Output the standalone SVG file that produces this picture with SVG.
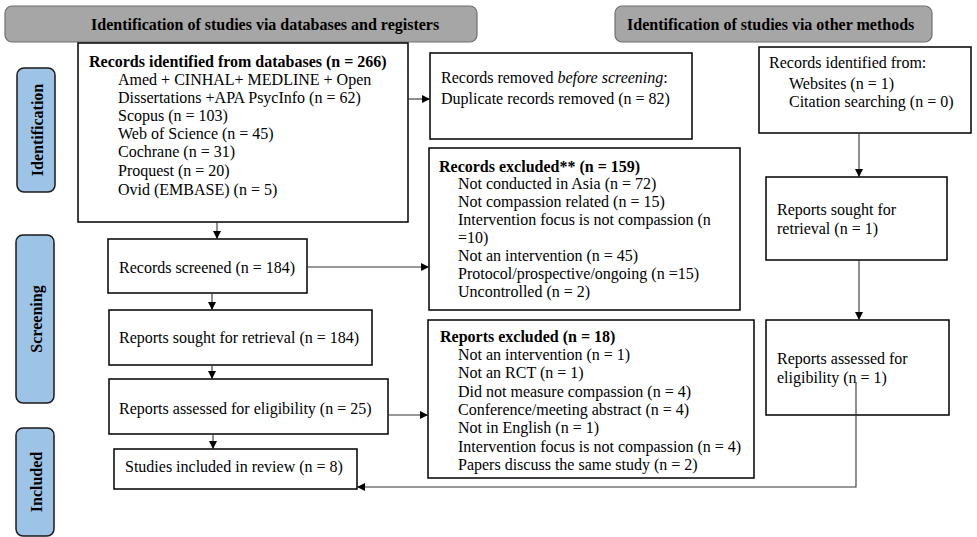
<svg xmlns="http://www.w3.org/2000/svg" width="977" height="537" viewBox="0 0 977 537">
<defs>
<marker id="ah" viewBox="0 0 10 10" refX="10" refY="5" markerWidth="8" markerHeight="8" markerUnits="userSpaceOnUse" orient="auto">
<path d="M0,0 L10,5 L0,10 z" fill="#000"/>
</marker>
<style>
text{font-family:"Liberation Serif","Times New Roman",serif;font-size:16px;fill:#000}
.b{font-weight:bold}
.box{fill:#fff;stroke:#000;stroke-width:1.5}
.hdr{fill:#a6a6a6;stroke:#6f6f6f;stroke-width:1.2}
.side{fill:#9dc3e6;stroke:#1a1a1a;stroke-width:1.5}
.con{fill:none;stroke:#333;stroke-width:1.1}
.arr{marker-end:url(#ah)}
</style>
</defs>
<rect width="977" height="537" fill="#fff"/>

<g id="header-databases">
<rect class="hdr" x="5" y="6" width="472" height="36" rx="7"/>
<text class="b" x="91" y="30">Identification of studies via databases and registers</text>
</g>
<g id="header-other">
<rect class="hdr" x="615" y="6" width="317" height="36" rx="7"/>
<text class="b" x="627" y="30">Identification of studies via other methods</text>
</g>

<g id="side-identification">
<rect class="side" x="17" y="68" width="38" height="124" rx="7"/>
<text class="b" transform="translate(43,130) rotate(-90)" text-anchor="middle">Identification</text>
</g>
<g id="side-screening">
<rect class="side" x="16" y="235" width="38" height="168" rx="7"/>
<text class="b" transform="translate(42,319) rotate(-90)" text-anchor="middle">Screening</text>
</g>
<g id="side-included">
<rect class="side" x="16" y="428" width="38" height="108" rx="7"/>
<text class="b" transform="translate(42,482) rotate(-90)" text-anchor="middle">Included</text>
</g>

<g id="records-identified">
<rect class="box" x="78" y="43" width="330" height="179"/>
<text class="b" x="89" y="67">Records identified from databases (n = 266)</text>
<text x="118" y="85">Amed + CINHAL+ MEDLINE + Open</text>
<text x="118" y="103">Dissertations +APA PsycInfo (n = 62)</text>
<text x="118" y="121">Scopus (n = 103)</text>
<text x="118" y="139">Web of Science (n = 45)</text>
<text x="118" y="157">Cochrane (n = 31)</text>
<text x="118" y="176">Proquest (n = 20)</text>
<text x="118" y="195">Ovid (EMBASE) (n = 5)</text>
</g>

<g id="records-removed">
<rect class="box" x="430" y="53" width="262" height="86"/>
<text x="441" y="83">Records removed <tspan font-style="italic">before screening</tspan>:</text>
<text x="441" y="104">Duplicate records removed (n = 82)</text>
</g>

<g id="records-other">
<rect class="box" x="759" y="47" width="212" height="86"/>
<text x="769" y="68">Records identified from:</text>
<text x="789" y="89">Websites (n = 1)</text>
<text x="789" y="107">Citation searching (n = 0)</text>
</g>

<g id="records-screened">
<rect class="box" x="108" y="239" width="199" height="54"/>
<text x="119" y="273">Records screened (n = 184)</text>
</g>

<g id="records-excluded">
<rect class="box" x="429" y="148" width="311" height="162"/>
<text class="b" x="439" y="172">Records excluded** (n = 159)</text>
<text x="458" y="189">Not conducted in Asia (n = 72)</text>
<text x="458" y="207">Not compassion related (n = 15)</text>
<text x="458" y="225">Intervention focus is not compassion (n</text>
<text x="458" y="243">=10)</text>
<text x="458" y="261">Not an intervention (n = 45)</text>
<text x="458" y="279">Protocol/prospective/ongoing (n =15)</text>
<text x="458" y="297">Uncontrolled (n = 2)</text>
</g>

<g id="reports-sought-other">
<rect class="box" x="766" y="177" width="181" height="83"/>
<text x="777" y="215">Reports sought for</text>
<text x="777" y="234">retrieval (n = 1)</text>
</g>

<g id="reports-sought">
<rect class="box" x="109" y="310" width="263" height="55"/>
<text x="119" y="343">Reports sought for retrieval (n = 184)</text>
</g>

<g id="reports-assessed">
<rect class="box" x="109" y="379" width="279" height="55"/>
<text x="119" y="414">Reports assessed for eligibility (n = 25)</text>
</g>

<g id="reports-excluded">
<rect class="box" x="428" y="320" width="326" height="158"/>
<text class="b" x="440" y="342">Reports excluded (n = 18)</text>
<text x="458" y="360">Not an intervention (n = 1)</text>
<text x="458" y="378">Not an RCT (n = 1)</text>
<text x="458" y="397">Did not measure compassion (n = 4)</text>
<text x="458" y="415">Conference/meeting abstract (n = 4)</text>
<text x="458" y="433">Not in English (n = 1)</text>
<text x="458" y="452">Intervention focus is not compassion (n = 4)</text>
<text x="458" y="470">Papers discuss the same study (n = 2)</text>
</g>

<g id="reports-assessed-other">
<rect class="box" x="766" y="320" width="183" height="95"/>
<text x="777" y="364">Reports assessed for</text>
<text x="777" y="383">eligibility (n = 1)</text>
</g>

<g id="studies-included">
<rect class="box" x="114" y="449" width="243" height="40"/>
<text x="125" y="472">Studies included in review (n = 8)</text>
</g>

<g id="connectors">
<line class="con arr" x1="408" y1="99" x2="430" y2="99"/>
<line class="con arr" x1="217" y1="222" x2="217" y2="239"/>
<line class="con arr" x1="307" y1="267" x2="429" y2="267"/>
<line class="con arr" x1="212" y1="293" x2="212" y2="310"/>
<line class="con arr" x1="212" y1="365" x2="212" y2="379"/>
<line class="con arr" x1="388" y1="415" x2="428" y2="415"/>
<line class="con arr" x1="213" y1="434" x2="213" y2="449"/>
<line class="con arr" x1="859" y1="133" x2="859" y2="177"/>
<line class="con arr" x1="859" y1="260" x2="859" y2="320"/>
<polyline class="con arr" points="856,382 856,487 357,487"/>
</g>
</svg>
